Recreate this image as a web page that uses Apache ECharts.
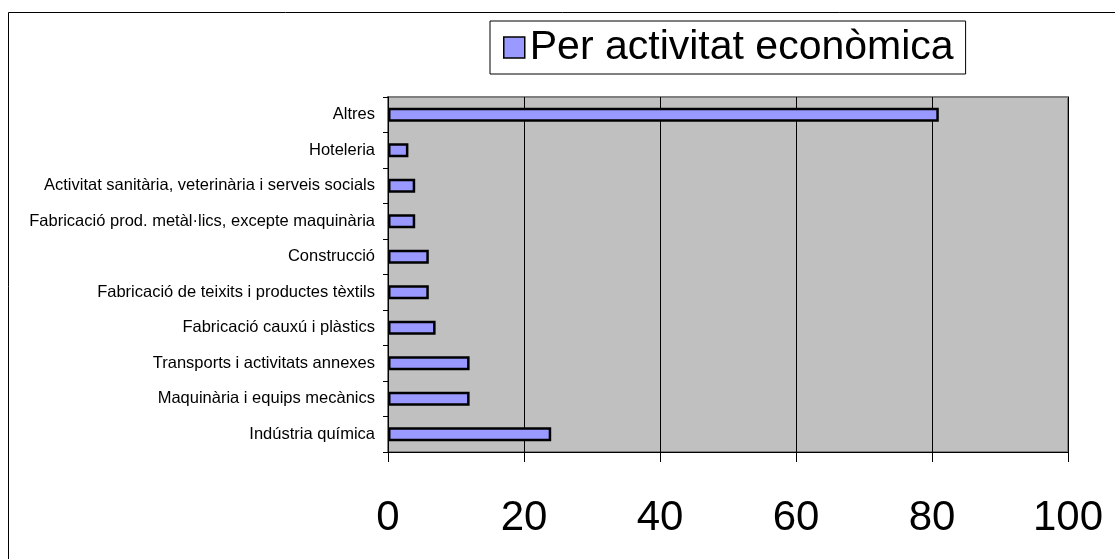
<!DOCTYPE html>
<html><head><meta charset="utf-8">
<script src="https://cdn.jsdelivr.net/npm/echarts@6/dist/echarts.min.js"></script>
<style>html,body{margin:0;padding:0;background:#fff}#c{width:1115px;height:559px}</style>
</head><body><div id="c"></div>
<script>
const categories = [
  "Indústria química",
  "Maquinària i equips mecànics",
  "Transports i activitats annexes",
  "Fabricació cauxú i plàstics",
  "Fabricació de teixits i productes tèxtils",
  "Construcció",
  "Fabricació prod. metàl·lics, excepte maquinària",
  "Activitat sanitària, veterinària i serveis socials",
  "Hoteleria",
  "Altres"
];
const values = [24, 12, 12, 7, 6, 6, 4, 4, 3, 81];
const seriesName = "Per activitat econòmica";
const xTicks = [0, 20, 40, 60, 80, 100];

const chart = echarts.init(document.getElementById('c'), null, {renderer: 'canvas'});
chart.setOption({
  animation: false,
  backgroundColor: '#ffffff',
  textStyle: {fontFamily: 'Liberation Sans, Arial, sans-serif'},
  graphic: [{
    type: 'rect', z: -10,
    shape: {x: 8.5, y: 12.5, width: 1120, height: 560},
    style: {fill: 'none', stroke: '#000', lineWidth: 1}
  }],
  legend: {
    show: true,
    left: 490, top: 21,
    padding: [6, 12, 6, 13],
    backgroundColor: '#ffffff',
    borderColor: '#000', borderWidth: 1,
    itemWidth: 21, itemHeight: 21,
    icon: 'rect',
    textStyle: {fontSize: 41, color: '#000', fontFamily: 'Liberation Sans, Arial, sans-serif'},
    data: [{name: seriesName, itemStyle: {color: '#9999FF', borderColor: '#000', borderWidth: 1.5}}]
  },
  grid: {
    left: 388, right: 47, top: 97, bottom: 107,
    show: true, backgroundColor: '#C0C0C0', borderColor: '#808080', borderWidth: 2,
    containLabel: false
  },
  xAxis: {
    type: 'value', min: 0, max: 100, interval: 20,
    axisLine: {show: true, lineStyle: {color: '#000', width: 1}},
    axisTick: {show: true, length: 10, lineStyle: {color: '#000'}},
    splitLine: {show: true, lineStyle: {color: '#000', width: 1}},
    axisLabel: {
      fontSize: 42, color: '#000', margin: 45,
      fontFamily: 'Liberation Sans, Arial, sans-serif',
      formatter: v => xTicks.includes(v) ? String(v) : ''
    }
  },
  yAxis: {
    type: 'category', data: categories,
    axisLine: {show: true, lineStyle: {color: '#000', width: 1}},
    axisTick: {show: true, length: 5, alignWithLabel: false, lineStyle: {color: '#000'}},
    splitLine: {show: false},
    axisLabel: {fontSize: 16.5, color: '#000', margin: 13, fontFamily: 'Liberation Sans, Arial, sans-serif'}
  },
  series: [{
    name: seriesName, type: 'bar', data: values,
    barWidth: 14,
    itemStyle: {color: '#9999FF', borderColor: '#000', borderWidth: 2.5}
  }]
});
</script></body></html>
